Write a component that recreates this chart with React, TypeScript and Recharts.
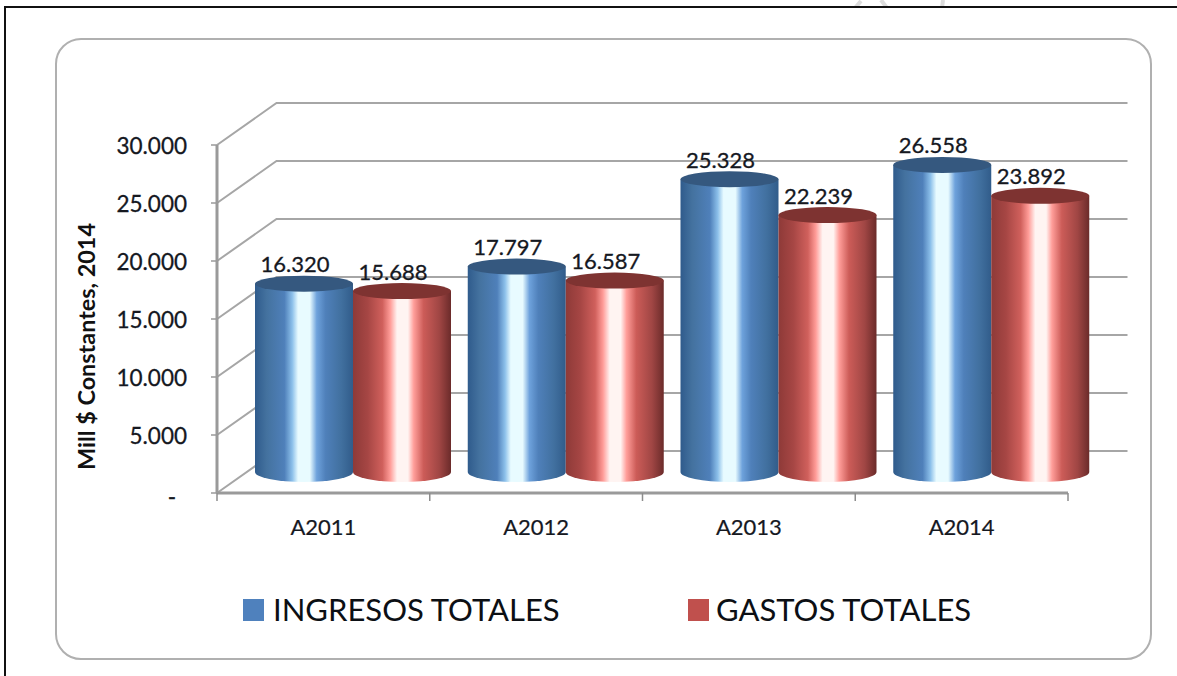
import { Bar, BarChart, CartesianGrid, Legend, XAxis, YAxis } from "recharts";

const anios = ["A2011", "A2012", "A2013", "A2014"];
const ingresos = [16320, 17797, 25328, 26558];
const gastos = [15688, 16587, 22239, 23892];
const yTicks = [0, 5000, 10000, 15000, 20000, 25000, 30000];

const data = anios.map((anio, i) => ({ anio, ingresos: ingresos[i], gastos: gastos[i] }));

const FONT = "Lato, sans-serif";
const INK = "#15181f";
const GRID = "#a6a6a6";
// perspective of the excel 3d box
const DEPTH_X = 59.5;
const DEPTH_Y = 42;
const BAR_DX = 30;
const BAR_DY = -21;
const TOP_RY = 8;
const BASE_RY = 10;
const BAND = 851 / anios.length;

const miles = (v: number) => String(v).replace(/\B(?=(\d{3})+$)/g, ".");

function Cylinder(props: any) {
  const { x, y, width, height, gradient, top } = props;
  const left = x + BAR_DX;
  const right = left + width;
  const y0 = y + BAR_DY + 1;
  const y1 = y0 + height - 1;
  const rx = width / 2;
  return (
    <g>
      <path
        d={`M${left},${y0} L${left},${y1} A${rx},${BASE_RY} 0 0 0 ${right},${y1} L${right},${y0} Z`}
        fill={`url(#${gradient})`}
      />
      <ellipse cx={left + rx} cy={y0} rx={rx} ry={TOP_RY} fill={top} />
    </g>
  );
}

function BarLabel(props: any) {
  const { x, y, width, value } = props;
  return (
    <text
      x={x + width / 2 + BAR_DX - 9}
      y={y + BAR_DY - 10.5}
      textAnchor="middle"
      fontFamily={FONT}
      fontSize={22}
      fill={INK}
      stroke={INK}
      strokeWidth={0.3}
    >
      {miles(value)}
    </text>
  );
}

function YTick({ x, y, payload }: any) {
  const isZero = payload.value === 0;
  return (
    <text
      x={isZero ? x - 33 : x - 22}
      y={isZero ? y + 12 : y + 9}
      textAnchor="end"
      fontFamily={FONT}
      fontSize={22.5}
      fill={INK}
      stroke={INK}
      strokeWidth={0.3}
    >
      {isZero ? "-" : miles(payload.value)}
    </text>
  );
}

function XTick({ x, y, payload, index }: any) {
  const edge = x - BAND / 2;
  return (
    <g>
      <line x1={edge} x2={edge} y1={y - 8} y2={y} stroke="#8c8c8c" strokeWidth={1.5} />
      {index === anios.length - 1 && (
        <line x1={edge + BAND} x2={edge + BAND} y1={y - 8} y2={y} stroke="#8c8c8c" strokeWidth={1.5} />
      )}
      <text
        x={x}
        y={y + 34}
        textAnchor="middle"
        fontFamily={FONT}
        fontSize={22}
        fill={INK}
        stroke={INK}
        strokeWidth={0.2}
      >
        {payload.value}
      </text>
    </g>
  );
}

function GridLine({ x1, x2, y1 }: any) {
  return (
    <polyline
      points={`${x1},${y1} ${x1 + DEPTH_X},${y1 - DEPTH_Y} ${x2 + DEPTH_X},${y1 - DEPTH_Y}`}
      fill="none"
      stroke={GRID}
      strokeWidth={2}
    />
  );
}

function AxisTitle() {
  return (
    <text
      transform="translate(95,346.5) rotate(-90)"
      textAnchor="middle"
      fontFamily={FONT}
      fontWeight={700}
      fontSize={23.4}
      fill="#111"
    >
      Mill $ Constantes, 2014
    </text>
  );
}

function LegendRow({ payload }: any) {
  const slots = [243, 688];
  const textLeft = [273, 716];
  return (
    <div style={{ position: "relative", width: 1177, height: 40 }}>
      {(payload || []).map((item: any, i: number) => (
        <div key={item.value}>
          <div
            style={{
              position: "absolute",
              left: slots[i],
              top: 8,
              width: 21,
              height: 22,
              background: item.color,
            }}
          />
          <div
            style={{
              position: "absolute",
              left: textLeft[i],
              top: 0,
              fontFamily: FONT,
              fontSize: 31,
              lineHeight: "36px",
              whiteSpace: "nowrap",
              color: "#0c0f14",
            }}
          >
            {item.value}
          </div>
        </div>
      ))}
    </div>
  );
}

export default function App() {
  return (
    <div style={{ position: "absolute", left: 0, top: 0, width: 1177, height: 676, overflow: "hidden", background: "#fff" }}>
      {/* faint watermark that pokes out above the frame */}
      <svg width={1177} height={8} style={{ position: "absolute", left: 0, top: 0 }}>
        <line x1={855} y1={8} x2={861} y2={1} stroke="#dcdcdc" strokeWidth={4} />
        <line x1={881} y1={0} x2={887} y2={8} stroke="#dcdcdc" strokeWidth={4} />
        <line x1={943} y1={0} x2={942} y2={8} stroke="#dcdcdc" strokeWidth={4} />
      </svg>
      {/* page frame runs off the right and bottom of the crop */}
      <div style={{ position: "absolute", left: 4, top: 6, width: 1200, height: 700, border: "2px solid #111" }} />
      <div
        style={{
          position: "absolute",
          left: 55,
          top: 38,
          width: 1093,
          height: 618,
          border: "2px solid #b0b0b0",
          borderRadius: 26,
        }}
      />
      <div style={{ position: "absolute", left: 0, top: 0 }}>
        <BarChart
          width={1177}
          height={676}
          data={data}
          barSize={98}
          barGap={0}
          margin={{ top: 145, right: 109, bottom: 143, left: 117 }}
        >
          <defs>
            <linearGradient id="cilAzul" x1="0" y1="0" x2="1" y2="0">
              <stop offset="0" stopColor="#2f5b8c" />
              <stop offset="0.12" stopColor="#44729f" />
              <stop offset="0.3" stopColor="#4f80ba" />
              <stop offset="0.38" stopColor="#8cc0ea" />
              <stop offset="0.44" stopColor="#e8fbff" />
              <stop offset="0.56" stopColor="#e8fbff" />
              <stop offset="0.63" stopColor="#6ea2dc" />
              <stop offset="0.72" stopColor="#4f80ba" />
              <stop offset="0.88" stopColor="#41709f" />
              <stop offset="1" stopColor="#315c8a" />
            </linearGradient>
            <linearGradient id="cilRojo" x1="0" y1="0" x2="1" y2="0">
              <stop offset="0" stopColor="#8e3a38" />
              <stop offset="0.15" stopColor="#a64644" />
              <stop offset="0.3" stopColor="#d0605c" />
              <stop offset="0.38" stopColor="#ff9c98" />
              <stop offset="0.45" stopColor="#fff4f2" />
              <stop offset="0.56" stopColor="#fff4f2" />
              <stop offset="0.62" stopColor="#ff9e9a" />
              <stop offset="0.72" stopColor="#cc5c58" />
              <stop offset="0.88" stopColor="#a04644" />
              <stop offset="1" stopColor="#6b2b2a" />
            </linearGradient>
          </defs>
          <CartesianGrid vertical={false} horizontal={(p: any) => <GridLine key={p.key} {...p} />} />
          <XAxis
            dataKey="anio"
            height={40}
            stroke="#9a9a9a"
            strokeWidth={3}
            tickLine={false}
            tick={<XTick />}
            interval={0}
          />
          <YAxis
            width={100}
            domain={[0, 30000]}
            ticks={yTicks}
            stroke="#9a9a9a"
            strokeWidth={3}
            tick={<YTick />}
            tickLine={{ stroke: "#9a9a9a", strokeWidth: 1.5 }}
            label={{ content: <AxisTitle /> }}
          />
          <Legend
            layout="horizontal"
            verticalAlign="middle"
            align="center"
            itemSorter={null}
            wrapperStyle={{ left: 0, top: 591, width: 1177, height: 40 }}
            content={<LegendRow />}
          />
          <Bar
            dataKey="ingresos"
            name="INGRESOS TOTALES"
            fill="#4f81bd"
            isAnimationActive={false}
            shape={(p: any) => <Cylinder {...p} gradient="cilAzul" top="#35587f" />}
            label={<BarLabel />}
          />
          <Bar
            dataKey="gastos"
            name="GASTOS TOTALES"
            fill="#c0504d"
            isAnimationActive={false}
            shape={(p: any) => <Cylinder {...p} gradient="cilRojo" top="#7e3331" />}
            label={<BarLabel />}
          />
        </BarChart>
      </div>
    </div>
  );
}
